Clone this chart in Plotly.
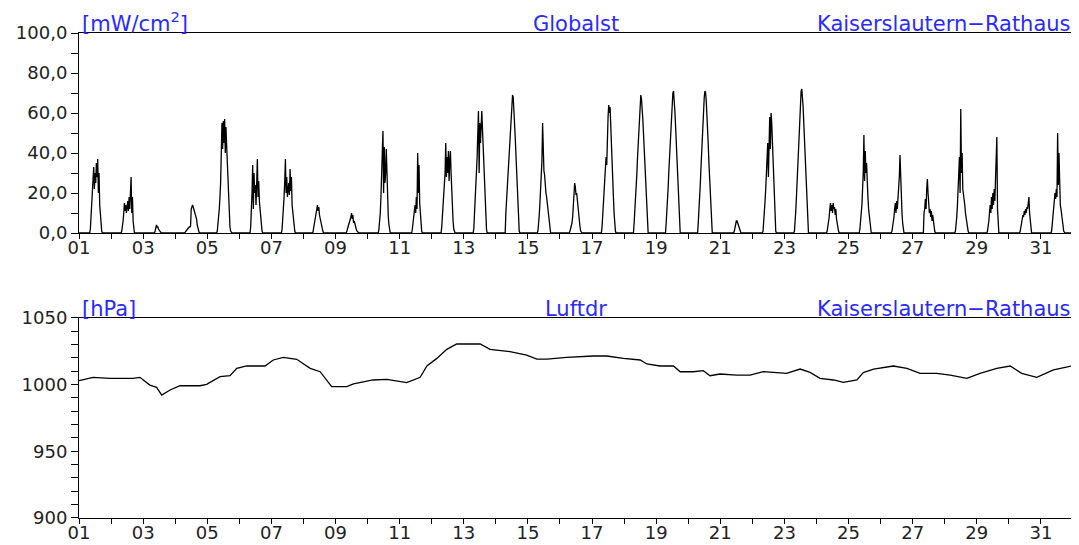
import plotly.graph_objects as go
from plotly.subplots import make_subplots

# Globalstrahlung [mW/cm2], half-hourly readings 07:00 .. 19:00, one row per day of the month
slot_hours = [7.0, 7.5, 8.0, 8.5, 9.0, 9.5, 10.0, 10.5, 11.0, 11.5, 12.0, 12.5, 13.0,
              13.5, 14.0, 14.5, 15.0, 15.5, 16.0, 16.5, 17.0, 17.5, 18.0, 18.5, 19.0]

globalst = [
    [0, 0, 0, 2, 9, 10, 18, 27, 33, 22, 30, 25, 35, 28, 37, 20, 30, 14, 8, 3, 1, 0, 0, 0, 0],
    [0, 0, 1, 3, 6, 10, 15, 11, 14, 10, 13, 16, 11, 18, 12, 20, 28, 10, 18, 6, 1, 0, 0, 0, 0],
    [0, 0, 0, 0, 1, 3, 4, 3, 3, 2, 1, 1, 0.5, 0, 0, 0, 0, 0, 0, 0, 0, 0, 0, 0, 0],
    [0, 0.5, 1, 1.5, 2, 2, 2.5, 3, 3, 3.5, 12, 14, 14, 13, 12, 11, 10, 9, 7, 4, 2, 1, 0, 0, 0],
    [0, 1, 4, 8, 12, 18, 25, 40, 55, 42, 56, 45, 57, 40, 53, 44, 35, 22, 15, 8, 3, 1, 0, 0, 0],
    [0, 0, 0, 3, 10, 20, 34, 12, 30, 20, 24, 14, 25, 37, 18, 26, 16, 12, 8, 3, 1, 0, 0, 0, 0],
    [0, 0, 2, 6, 12, 18, 26, 37, 20, 28, 18, 22, 25, 19, 32, 21, 28, 14, 10, 6, 3, 1, 0, 0, 0],
    [0, 2, 4, 6, 8, 10, 12, 14, 11, 13, 9, 7, 5, 3, 2, 1, 0, 0, 0, 0, 0, 0, 0, 0, 0],
    [0, 0, 0, 1, 2, 3, 4, 5, 6, 8, 10, 7, 9, 5, 6, 4, 3, 2, 1, 0.5, 0, 0, 0, 0, 0],
    [0, 0, 0, 2, 5, 10, 18, 28, 35, 51, 20, 43, 25, 30, 42, 25, 15, 8, 4, 1, 0, 0, 0, 0, 0],
    [0, 0, 0, 0, 0, 2, 5, 8, 10, 14, 10, 18, 12, 40, 20, 34, 15, 8, 4, 1, 0, 0, 0, 0, 0],
    [0, 3, 8, 14, 20, 25, 30, 45, 28, 38, 30, 41, 26, 36, 41, 30, 20, 12, 6, 2, 0, 0, 0, 0, 0],
    [0, 2, 8, 15, 22, 30, 38, 50, 61, 30, 55, 45, 58, 61, 52, 43, 35, 25, 15, 7, 2, 0, 0, 0, 0],
    [0, 10, 16, 21, 26, 31, 38, 45, 53, 60, 66, 69, 68, 63, 56, 48, 40, 32, 24, 15, 7, 1, 0, 0, 0],
    [0, 1, 4, 9, 15, 22, 28, 36, 55, 40, 31, 29, 22, 20, 18, 15, 10, 6, 3, 1, 0, 0, 0, 0, 0],
    [0, 1, 2, 3, 5, 8, 13, 20, 25, 23, 19, 20, 16, 12, 8, 5, 3, 1, 0, 0, 0, 0, 0, 0, 0],
    [0, 3, 8, 13, 18, 24, 30, 38, 34, 52, 58, 64, 60, 63, 52, 42, 34, 26, 18, 10, 4, 1, 0, 0, 0],
    [0, 5, 10, 16, 22, 29, 37, 45, 53, 60, 65, 69, 67, 63, 57, 50, 42, 34, 25, 17, 9, 3, 0, 0, 0],
    [0, 5, 10, 16, 23, 31, 39, 47, 55, 62, 67, 70, 71, 67, 61, 54, 46, 37, 28, 19, 10, 3, 0, 0, 0],
    [0, 5, 10, 17, 24, 32, 40, 48, 56, 63, 68, 71, 70, 66, 60, 52, 44, 35, 26, 17, 9, 2, 0, 0, 0],
    [0, 0, 0, 0, 0, 0, 0, 1, 3, 5, 6, 6, 5, 3, 2, 1, 0, 0, 0, 0, 0, 0, 0, 0, 0],
    [0, 0, 1, 5, 10, 16, 22, 30, 38, 45, 28, 50, 58, 42, 60, 55, 44, 33, 22, 12, 5, 1, 0, 0, 0],
    [0, 1, 5, 11, 18, 26, 35, 44, 53, 61, 67, 71, 72, 69, 63, 55, 46, 37, 27, 18, 9, 3, 0, 0, 0],
    [0, 0, 1, 3, 5, 8, 12, 15, 11, 14, 10, 15, 12, 13, 9, 12, 7, 4, 2, 1, 0, 0, 0, 0, 0],
    [0, 0, 0, 2, 5, 9, 14, 22, 30, 49, 26, 41, 30, 35, 22, 18, 12, 8, 4, 1, 0, 0, 0, 0, 0],
    [0, 0, 0, 1, 3, 5, 8, 12, 15, 10, 16, 12, 18, 20, 28, 39, 25, 15, 10, 5, 1, 0, 0, 0, 0],
    [0, 0, 0, 10, 12, 17, 12, 22, 27, 20, 14, 10, 12, 8, 11, 6, 9, 5, 3, 1, 0, 0, 0, 0, 0],
    [0, 0, 1, 4, 8, 14, 20, 30, 38, 20, 62, 30, 40, 22, 20, 18, 14, 10, 7, 4, 2, 1, 0, 0, 0],
    [0, 0, 1, 3, 6, 10, 14, 10, 18, 12, 20, 14, 22, 16, 25, 30, 48, 12, 3, 0, 0, 0, 0, 0, 0],
    [0, 0, 0, 1, 3, 5, 7, 9, 8, 11, 9, 12, 10, 13, 12, 16, 18, 10, 6, 2, 0, 0, 0, 0, 0],
    [0, 0, 1, 4, 8, 12, 16, 20, 17, 22, 18, 50, 24, 40, 16, 14, 12, 10, 8, 4, 1, 0, 0, 0, 0],
]

# Luftdruck [hPa], time given in days (1.0 = start of the 1st)
luftdr_time = [1.0, 1.44, 1.97, 2.68, 2.90, 3.21, 3.42, 3.58, 3.84, 4.15, 4.77, 4.98,
               5.40, 5.71, 5.92, 6.23, 6.80, 7.06, 7.37, 7.79, 8.21, 8.52, 8.88, 9.35,
               9.56, 10.17, 10.60, 11.22, 11.64, 11.85, 12.16, 12.47, 12.78, 13.51, 13.82,
               14.44, 14.96, 15.28, 15.59, 16.21, 17.04, 17.46, 17.98, 18.50, 18.71, 19.12,
               19.54, 19.75, 20.16, 20.47, 20.68, 20.99, 21.51, 21.93, 22.34, 23.07, 23.49,
               23.80, 24.11, 24.53, 24.84, 25.26, 25.46, 25.78, 26.40, 26.82, 27.23, 27.75,
               28.17, 28.69, 29.10, 29.62, 30.04, 30.40, 30.87, 31.39, 31.96, 32.0]
luftdr_hpa = [1003, 1005.5, 1004.7, 1004.7, 1005.5, 999.7, 998, 992.2, 996, 999.2, 999.2, 1000.2,
              1006, 1006.7, 1012.2, 1014, 1014, 1018.5, 1020.5, 1019, 1012.2, 1009.7, 998.5, 998.5,
              1000.5, 1003.5, 1004, 1001.5, 1005.5, 1014, 1019.7, 1026.5, 1030.5, 1030.5, 1026.5,
              1024.7, 1022.2, 1019.2, 1019.2, 1020.5, 1021.5, 1021.5, 1019.7, 1018.5, 1015.5, 1014,
              1014, 1009.7, 1009.7, 1010.5, 1006.7, 1008, 1007.2, 1007.2, 1009.7, 1008.5, 1011.7,
              1009.2, 1004.7, 1003.5, 1001.7, 1003.5, 1009, 1011.7, 1014, 1012.2, 1008.5, 1008.5,
              1007.2, 1004.7, 1008.5, 1012.2, 1014, 1008.5, 1005.5, 1011, 1014, 1014]

day_ticks = list(range(1, 33))
day_labels = ['01', '', '03', '', '05', '', '07', '', '09', '', '11', '', '13', '', '15', '',
              '17', '', '19', '', '21', '', '23', '', '25', '', '27', '', '29', '', '31', '']

rad_ticks = [0, 10, 20, 30, 40, 50, 60, 70, 80, 90, 100]
rad_labels = ['0,0', '', '20,0', '', '40,0', '', '60,0', '', '80,0', '', '100,0']

hpa_ticks = [900, 910, 920, 930, 940, 950, 960, 970, 980, 990, 1000, 1010, 1020, 1030, 1040, 1050]
hpa_labels = ['900', '', '', '', '', '950', '', '', '', '', '1000', '', '', '', '', '1050']

station = 'Kaiserslautern\u2212Rathaus'
blue = '#2a2aff'
font_family = 'DejaVu Sans'

# flatten the daily rows into one time series (x in days), with 0 at both ends of the month
rad_x = [1.0]
rad_y = [0]
for day, row in enumerate(globalst, start=1):
    for h, v in zip(slot_hours, row):
        rad_x.append(day + h / 24)
        rad_y.append(v)
rad_x.append(32.0)
rad_y.append(0)

fig = make_subplots(rows=2, cols=1)

fig.add_trace(go.Scatter(x=rad_x, y=rad_y, mode='lines',
                         line=dict(color='black', width=1.3)), row=1, col=1)
fig.add_trace(go.Scatter(x=luftdr_time, y=luftdr_hpa, mode='lines',
                         line=dict(color='black', width=1.3)), row=2, col=1)

axis_style = dict(showline=True, linecolor='black', linewidth=1, mirror=True,
                  ticks='outside', tickcolor='black', tickwidth=1,
                  showgrid=False, zeroline=False, automargin=False,
                  tickfont=dict(family=font_family, size=18, color='#222222'))

# day labels sit tight under the ticks, as in the original printout
fig.update_xaxes(range=[1, 32], tickmode='array', tickvals=day_ticks, ticktext=day_labels,
                 ticklen=5, ticklabelstandoff=-7, **axis_style)
fig.update_yaxes(range=[0, 100], tickmode='array', tickvals=rad_ticks, ticktext=rad_labels,
                 ticklen=7, row=1, col=1, **axis_style)
fig.update_yaxes(range=[900, 1050], tickmode='array', tickvals=hpa_ticks, ticktext=hpa_labels,
                 ticklen=7, row=2, col=1, **axis_style)

# Panel headers: unit left, quantity centred, station right
for xr, yr, unit, name in [('x domain', 'y domain', '[mW/cm<sup>2</sup>]', 'Globalst'),
                           ('x2 domain', 'y2 domain', '[hPa]', 'Luftdr')]:
    for x, anchor, text in [(0, 'left', unit), (0.5, 'center', name), (1, 'right', station)]:
        fig.add_annotation(x=x, y=1, xref=xr, yref=yr, xanchor=anchor, yanchor='bottom',
                           text=text, showarrow=False, yshift=-5, xshift=1 if x == 0 else 0,
                           font=dict(family=font_family, size=21, color=blue))

# the page body adds an 8px margin, so the figure is sized to fit the 1079x545 window
fig.update_layout(width=1071, height=537, showlegend=False,
                  margin=dict(l=71, r=6, t=25, b=27),
                  paper_bgcolor='white', plot_bgcolor='white',
                  yaxis=dict(domain=[0.5876, 1.0]),
                  yaxis2=dict(domain=[0.0, 0.4124]))

fig.write_html("out.html")
